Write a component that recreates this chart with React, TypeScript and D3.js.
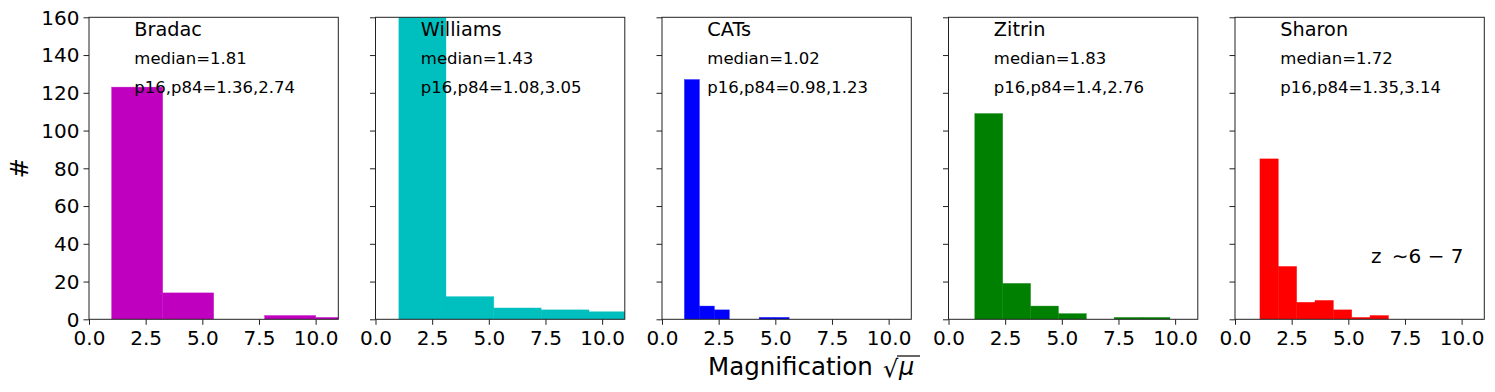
import React, { useEffect, useRef } from 'react';
import * as d3 from 'd3';

// catalogue names and summary text
const names = ['Bradac', 'Williams', 'CATs', 'Zitrin', 'Sharon'];
const medians = ['1.81', '1.43', '1.02', '1.83', '1.72'];
const percentiles = ['1.36,2.74', '1.08,3.05', '0.98,1.23', '1.4,2.76', '1.35,3.14'];

// histogram bin edges and counts
const bradacEdges = [1.0, 3.25, 5.5, 7.75, 10.0, 12.25];
const bradacCounts = [123, 14, 0, 2, 1];
const williamsEdges = [1.03, 3.11, 5.22, 7.31, 9.42, 11.5];
const williamsCounts = [175, 12, 6, 5, 4];
const catsEdges = [0.99, 1.65, 2.31, 2.97, 3.63, 4.29, 4.95, 5.61];
const catsCounts = [127, 7, 5, 0, 0, 1, 1];
const zitrinEdges = [1.16, 2.39, 3.62, 4.85, 6.08, 7.31, 8.54, 9.77];
const zitrinCounts = [109, 19, 7, 3, 0, 1, 1];
const sharonEdges = [1.1, 1.91, 2.72, 3.53, 4.34, 5.15, 5.96, 6.77];
const sharonCounts = [85, 28, 9, 10, 5, 1, 2];

const xTicks = [0, 2.5, 5, 7.5, 10];
const yTicks = [0, 20, 40, 60, 80, 100, 120, 140, 160];

const allEdges = [bradacEdges, williamsEdges, catsEdges, zitrinEdges, sharonEdges];
const allCounts = [bradacCounts, williamsCounts, catsCounts, zitrinCounts, sharonCounts];
const colors = ['#bf00bf', '#00bfbf', '#0000ff', '#008000', '#ff0000'];

const W = 1495;
const H = 392;

const App = () => {
  const svgRef = useRef<SVGSVGElement>(null);

  useEffect(() => {
    const root = d3.select(svgRef.current);
    root.selectAll('*').remove();
    const font = 'DejaVu Sans, sans-serif';

    const left0 = 89;
    const step = 286.5;
    const pw = 249.3;
    const top = 17.3;
    const bottom = 319.3;
    const ph = bottom - top;

    const x = d3.scaleLinear().domain([0, 11]).range([0, pw]);
    const y = d3.scaleLinear().domain([0, 160]).range([ph, 0]);

    names.forEach((name, k) => {
      const g = root.append('g')
        .attr('transform', `translate(${left0 + k * step},${top})`);

      const clipId = `clip${k}`;
      g.append('clipPath').attr('id', clipId)
        .append('rect').attr('width', pw).attr('height', ph);

      const edges = allEdges[k];
      const counts = allCounts[k];
      const bins = counts.map((c, i) => ({ x0: edges[i], x1: edges[i + 1], c }));

      g.append('g').attr('clip-path', `url(#${clipId})`)
        .selectAll('rect')
        .data(bins.filter(b => b.c > 0))
        .join('rect')
        .attr('x', d => x(d.x0))
        .attr('width', d => x(d.x1) - x(d.x0))
        .attr('y', d => y(d.c))
        .attr('height', d => y(0) - y(d.c))
        .attr('fill', colors[k])
        .attr('stroke', colors[k])
        .attr('stroke-opacity', 0.6)
        .attr('stroke-width', 0.6);

      // text labels
      g.append('text')
        .attr('x', x(2)).attr('y', y(150))
        .style('font-family', font).style('font-size', '19.3px')
        .text(name);
      g.append('text')
        .attr('x', x(2)).attr('y', y(135))
        .style('font-family', font).style('font-size', '16.5px')
        .text(`median=${medians[k]}`);
      g.append('text')
        .attr('x', x(2)).attr('y', y(120))
        .style('font-family', font).style('font-size', '16.5px')
        .text(`p16,p84=${percentiles[k]}`);

      // x axis
      const xa = g.append('g').attr('transform', `translate(0,${ph})`)
        .call(d3.axisBottom(x).tickValues(xTicks).tickFormat(d3.format('.1f')).tickSizeOuter(0).tickSize(5.5).tickPadding(6));
      xa.select('.domain').remove();
      xa.selectAll('line').attr('stroke', '#222');
      xa.selectAll('text').style('font-family', font).style('font-size', '20px').attr('fill', '#000');

      // y axis
      const ya = g.append('g')
        .call(d3.axisLeft(y).tickValues(yTicks).tickSizeOuter(0).tickSize(5.5).tickPadding(4)
          .tickFormat(k === 0 ? (d => String(d)) : () => ''));
      ya.select('.domain').remove();
      ya.selectAll('line').attr('stroke', '#222');
      ya.selectAll('text').style('font-family', font).style('font-size', '20px').attr('fill', '#000')
        .attr('dy', '0.34em');

      g.append('rect')
        .attr('width', pw).attr('height', ph)
        .attr('fill', 'none').attr('stroke', '#222').attr('stroke-width', 1);

      if (k === 4) {
        const t = g.append('text')
          .attr('x', x(6)).attr('y', y(30))
          .style('font-family', font).style('font-size', '20px');
        t.append('tspan').text('z ');
        t.append('tspan').attr('dx', 4).text('∼6 − 7');
      }
    });

    // y label
    root.append('text')
      .attr('transform', `translate(28,${top + ph / 2}) rotate(-90)`)
      .attr('text-anchor', 'middle')
      .style('font-family', font).style('font-size', '24px')
      .text('#');

    // x label with sqrt(mu)
    const lx = 708;
    const ly = 375;
    root.append('text')
      .attr('x', lx).attr('y', ly)
      .style('font-family', font).style('font-size', '24.5px')
      .text('Magnification');
    root.append('text')
      .attr('x', 883).attr('y', ly + 2)
      .style('font-family', font).style('font-size', '24px')
      .text('√');
    root.append('text')
      .attr('x', 899).attr('y', ly)
      .style('font-family', font).style('font-size', '24px').style('font-style', 'italic')
      .text('μ');
    root.append('line')
      .attr('x1', 897).attr('x2', 920)
      .attr('y1', 356).attr('y2', 356)
      .attr('stroke', '#000').attr('stroke-width', 1.2);
  }, []);

  return (
    <svg ref={svgRef} width={W} height={H}
      style={{ position: 'absolute', left: 0, top: 0, background: '#fff' }} />
  );
};

export default App;
